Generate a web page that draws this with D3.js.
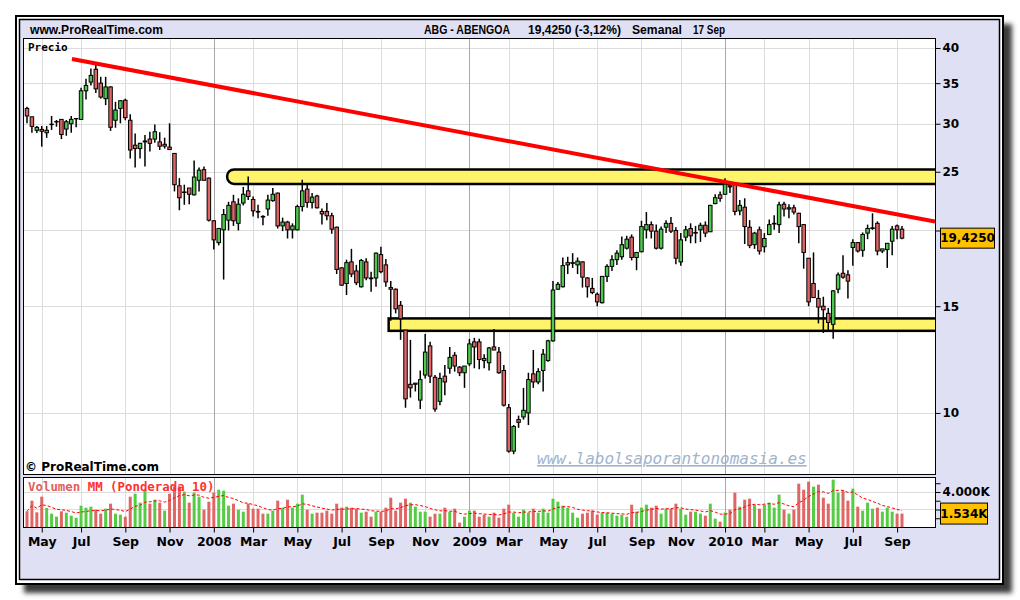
<!DOCTYPE html>
<html>
<head>
<meta charset="utf-8">
<script src="https://cdn.jsdelivr.net/npm/d3@7"></script>
<style>
  body { margin: 0; background: #fff; }
</style>
</head>
<body>
<div id="chart-wrapper"></div>
<script>

// weekly bars, ABG - ABENGOA
const firstWeek = "2007-04-16"
const lastWeek = "2010-09-13"

const opens = [
  31.8, 30.8, 29.26, 29.36, 28.99, 29.9, 30.2, 30.5, 29.4, 30.0,
  30.6, 30.5, 34.0, 35.15, 36.9, 35.0, 33.0, 34.5, 30.4, 31.8,
  32.8, 30.4, 27.65, 27.3, 28.0, 28.3, 28.3, 28.0, 27.75, 27.45,
  26.8, 23.7, 23.1, 23.5, 22.9, 24.2, 25.2, 24.4, 20.75, 19.1,
  20.05, 20.8, 22.3, 20.55, 22.2, 23.25, 22.5, 21.5, 21.1, 21.7,
  22.4, 23.05, 20.35, 20.65, 20.05, 20.05, 21.9, 23.4, 22.25, 22.8,
  21.5, 21.5, 21.15, 20.25, 17.35, 16.35, 17.75, 17.15, 16.15, 17.75,
  16.7, 16.7, 18.25, 17.55, 16.1, 16.0, 15.05, 13.7, 11.15, 11.15,
  10.5, 11.55, 12.9, 11.45, 10.45, 11.5, 11.85, 12.45, 11.9, 11.65,
  12.05, 13.1, 13.1, 12.3, 12.1, 12.85, 12.6, 11.75, 10.2, 8.65,
  9.75, 9.85, 10.0, 11.6, 11.25, 11.75, 12.2, 13.15, 16.0, 16.15,
  17.7, 17.65, 17.55, 17.75, 16.7, 16.05, 15.7, 15.2, 16.8, 17.45,
  17.9, 18.1, 18.7, 19.5, 18.05, 18.45, 20.05, 20.45, 19.95, 18.7,
  20.25, 20.55, 20.0, 17.75, 19.5, 20.15, 19.8, 20.05, 20.4, 19.9,
  22.15, 22.9, 22.95, 23.7, 23.9, 21.55, 21.85, 20.25, 18.95, 20.05,
  18.8, 19.7, 20.5, 20.45, 22.1, 21.7, 21.8, 21.35, 20.45, 18.0,
  16.35, 15.45, 15.0, 14.6, 14.0, 16.0, 17.0, 16.9, 18.75, 19.1,
  18.55, 19.8, 20.15, 20.55, 18.5, 18.6, 19.2, 20.35, 20.1
]
const highs = [
  32.0, 30.8, 29.74, 29.74, 29.74, 30.9, 30.43, 30.5, 30.43, 30.9,
  30.65, 34.4, 35.6, 37.0, 37.5, 35.85, 35.85, 34.6, 32.6, 32.8,
  33.0, 31.1, 28.9, 27.9, 28.75, 29.1, 29.9, 29.05, 28.45, 30.05,
  26.85, 24.4, 23.8, 23.5, 26.1, 25.4, 25.5, 24.45, 20.8, 20.2,
  21.7, 22.3, 22.9, 22.6, 23.6, 24.55, 22.75, 22.05, 21.2, 22.9,
  23.5, 23.1, 21.0, 20.75, 20.55, 22.05, 24.25, 23.85, 23.05, 22.9,
  21.75, 22.2, 21.4, 20.3, 17.4, 17.9, 18.65, 17.55, 17.95, 18.0,
  17.1, 18.4, 18.8, 17.95, 16.5, 16.05, 15.3, 13.7, 13.2, 11.2,
  11.75, 13.5, 13.1, 11.55, 11.65, 12.0, 12.85, 12.6, 11.95, 11.95,
  13.25, 13.3, 13.25, 12.5, 12.85, 13.75, 12.85, 12.0, 10.35, 9.55,
  9.9, 11.0, 11.65, 12.7, 11.85, 12.75, 13.2, 16.5, 16.45, 18.05,
  18.1, 18.35, 18.05, 17.8, 16.75, 16.7, 15.8, 16.8, 17.6, 18.2,
  18.55, 19.55, 19.6, 19.7, 18.4, 20.75, 21.45, 20.7, 20.45, 20.3,
  20.8, 21.05, 20.25, 19.8, 20.35, 20.55, 20.35, 20.6, 20.7, 22.05,
  22.95, 23.2, 24.4, 23.8, 24.05, 22.45, 22.6, 20.8, 19.9, 20.3,
  19.8, 20.85, 21.2, 22.3, 22.3, 22.1, 22.05, 21.4, 20.5, 18.0,
  18.4, 15.95, 15.55, 14.9, 15.95, 17.05, 18.2, 17.2, 19.35, 19.15,
  19.85, 20.45, 21.35, 20.7, 18.65, 19.05, 20.35, 20.45, 20.35
]
const lows = [
  30.05, 29.0, 28.96, 27.5, 28.43, 29.3, 29.66, 28.3, 28.66, 29.0,
  29.6, 30.5, 32.9, 34.7, 33.7, 33.0, 32.2, 29.2, 29.55, 30.05,
  30.4, 26.3, 25.4, 26.3, 25.5, 27.0, 27.9, 27.15, 27.3, 27.2,
  23.2, 21.6, 22.05, 22.1, 22.85, 23.2, 24.2, 20.7, 18.6, 18.9,
  16.6, 20.0, 20.35, 20.0, 22.0, 22.45, 21.1, 20.95, 20.4, 21.15,
  22.3, 20.15, 19.95, 19.4, 19.4, 20.0, 21.5, 21.8, 21.75, 21.75,
  20.45, 20.8, 19.75, 16.95, 16.2, 15.65, 16.75, 16.25, 16.1, 16.55,
  15.85, 16.15, 17.0, 16.15, 14.2, 14.6, 13.2, 10.2, 10.6, 10.85,
  10.15, 11.4, 11.2, 10.05, 10.3, 10.7, 11.6, 11.7, 11.5, 11.0,
  11.95, 11.85, 11.8, 11.85, 11.75, 12.7, 11.6, 10.25, 8.6, 8.55,
  9.45, 9.75, 9.55, 11.0, 11.15, 10.85, 12.15, 13.1, 15.95, 16.1,
  16.95, 17.35, 16.95, 16.1, 15.5, 15.7, 15.0, 15.15, 16.45, 17.15,
  17.55, 17.9, 18.6, 17.85, 17.2, 18.4, 19.4, 19.4, 18.6, 18.6,
  19.8, 19.8, 17.6, 17.5, 19.2, 19.05, 19.05, 19.15, 19.5, 19.9,
  22.1, 22.3, 22.9, 23.05, 21.2, 21.2, 19.0, 18.7, 18.65, 18.25,
  18.4, 19.65, 20.05, 19.8, 21.1, 20.95, 21.25, 19.05, 17.3, 15.0,
  15.5, 14.05, 13.55, 13.7, 13.25, 15.75, 16.65, 15.45, 17.5, 18.4,
  18.1, 19.35, 20.05, 18.2, 18.35, 17.35, 18.2, 19.35, 19.35
]
const closes = [
  30.9, 29.7, 29.59, 29.15, 29.26, 29.95, 30.25, 28.8, 30.23, 30.5,
  30.6, 34.0, 34.7, 36.05, 34.25, 33.2, 34.5, 29.6, 31.6, 32.74,
  30.7, 27.15, 27.3, 27.85, 28.1, 27.85, 29.1, 27.55, 27.55, 27.2,
  23.8, 22.65, 23.15, 22.95, 24.5, 25.15, 24.2, 20.8, 19.3, 20.15,
  21.25, 22.0, 20.75, 22.1, 22.95, 22.75, 21.55, 21.45, 21.05, 22.45,
  22.95, 20.35, 20.65, 20.05, 20.35, 21.9, 23.25, 22.25, 22.7, 21.8,
  21.3, 21.15, 20.1, 17.25, 16.25, 17.7, 16.95, 16.4, 17.85, 16.7,
  16.65, 18.35, 17.1, 16.45, 16.0, 14.85, 14.3, 10.55, 11.0, 11.2,
  11.35, 12.6, 11.5, 10.15, 11.4, 11.25, 12.35, 11.95, 11.65, 11.95,
  13.0, 12.85, 12.25, 12.2, 12.8, 12.7, 11.65, 10.3, 8.65, 9.5,
  9.65, 10.1, 11.35, 11.25, 11.7, 12.5, 13.15, 15.95, 16.3, 17.5,
  17.55, 17.7, 17.8, 16.75, 16.15, 15.8, 15.25, 16.8, 17.45, 17.9,
  18.35, 18.95, 19.35, 18.05, 18.4, 20.3, 20.45, 19.95, 18.7, 20.1,
  20.55, 19.95, 18.0, 19.3, 20.05, 19.6, 19.85, 20.4, 19.8, 22.0,
  22.65, 22.6, 23.85, 23.6, 21.5, 22.0, 20.3, 18.9, 19.8, 18.5,
  19.4, 20.45, 20.55, 22.05, 21.7, 21.8, 21.45, 20.3, 18.4, 15.25,
  15.5, 14.95, 14.8, 14.1, 15.9, 16.9, 16.75, 16.5, 19.1, 18.5,
  19.7, 20.15, 20.2, 18.5, 18.65, 19.05, 20.1, 20.05, 19.425
]
// volume in thousands of shares
const volumes = [
  1790, 3010, 1676, 3467, 2172, 1524, 1181, 1790, 1638, 1295,
  1067, 2438, 2210, 2324, 1981, 1524, 2096, 2667, 1524, 1410,
  1181, 3467, 3810, 2781, 4267, 2667, 3124, 2781, 1867, 3810,
  4648, 4648, 4039, 2781, 3924, 3467, 1981, 2896, 3924, 4267,
  4153, 2438, 2667, 1981, 1753, 2667, 2096, 2096, 1524, 1524,
  1867, 3010, 2210, 3124, 2210, 2667, 3696, 1981, 1524, 1638,
  1638, 1867, 1524, 2667, 2210, 2324, 2210, 2096, 1638, 1753,
  1181, 1753, 1753, 2210, 3353, 1867, 2781, 3239, 2781, 2324,
  1753, 1753, 1181, 1524, 1524, 2210, 1753, 2096, 495, 1181,
  1867, 1867, 1181, 1410, 1181, 1638, 1067, 2096, 2553, 1638,
  1181, 1981, 1638, 2096, 1638, 2096, 1638, 3239, 2896, 2438,
  2210, 1638, 1067, 1524, 1638, 1867, 1410, 1638, 1638, 1524,
  1295, 1410, 1181, 2553, 1753, 2210, 2553, 2210, 2438, 1524,
  2096, 2096, 2667, 2096, 1410, 1753, 1753, 1524, 1295, 2667,
  953, 610, 1638, 1981, 3924, 2324, 3124, 3239, 2553, 2096,
  2553, 2781, 2210, 3696, 1981, 1524, 1981, 4953, 4267, 5182,
  4610, 4839, 3353, 2667, 5410, 3924, 4153, 3010, 4382, 2324,
  1867, 2781, 2096, 2210, 1753, 2210, 1753, 1524, 1534
]

const priceTicks = [10, 15, 20, 25, 30, 35, 40]
const volumeTicks = [1000, 2000, 3000, 4000, 5000]
const monthNames = ["Ene", "Feb", "Mar", "Abr", "May", "Jun", "Jul", "Ago", "Sep", "Oct", "Nov", "Dic"]

// yellow support / resistance zones
const zoneStarts = ["2008-01-26", "2008-09-12"]
const zoneLows = [23.86, 13.66]
const zoneHighs = [25.22, 14.32]

// red trend line
const trendDates = ["2007-06-19", "2010-10-30"]
const trendPrices = [38.37, 20.7]

function drawChart() {

  const parseDate = d3.utcParse("%Y-%m-%d")
  const dates = d3.utcMonday.range(parseDate(firstWeek), d3.utcDay.offset(parseDate(lastWeek), 1))

  const bars = dates.map((d, i) => ({
    date: d, open: opens[i], high: highs[i], low: lows[i], close: closes[i], volume: volumes[i],
    volUp: i === 0 ? closes[i] >= opens[i] : closes[i] >= closes[i - 1]
  }))

  // weighted moving average, 10 periods
  const wma = bars.map((d, i) => {
    let num = 0, den = 0
    for (let k = 0; k < 10 && i - k >= 0; k++) {
      num += (10 - k) * volumes[i - k]
      den += (10 - k)
    }
    return num / den
  })

  // chart dimensions
  const width = 1020
  const height = 600
  const plot = { left: 23, right: 935, top: 38, bottom: 474 }
  const vol = { top: 477, bottom: 527 }

  const green = "#4DC94D"
  const red = "#E06666"
  const lavender = "#E0E0F4"
  const font = "'DejaVu Sans', Verdana, sans-serif"

  // scales
  const x = d3.scaleUtc()
    .domain([dates[0], dates[dates.length - 1]])
    .range([27, 902])
  const y = d3.scaleLog()
    .domain([7.93, 41.55])
    .range([plot.bottom, plot.top])
  const v = d3.scaleLinear()
    .domain([0, 5714])
    .range([vol.bottom, vol.top])

  // ticks sit on the first weekly bar of every other month
  const monthTicks = dates.filter((d, i) => i > 0
    && d.getUTCMonth() !== dates[i - 1].getUTCMonth()
    && d.getUTCMonth() % 2 === 0)

  const last = bars[bars.length - 1]
  const comma = s => s.replace(".", ",").replace("\u2212", "-")

  const svg = d3.select("#chart-wrapper")
    .append("svg")
      .attr("width", width)
      .attr("height", height)

  const defs = svg.append("defs")
  defs.append("filter").attr("id", "shadow-blur")
    .attr("x", "-5%").attr("y", "-5%").attr("width", "110%").attr("height", "110%")
    .append("feGaussianBlur").attr("stdDeviation", 2.5)
  defs.append("clipPath").attr("id", "clip-price")
    .append("rect")
      .attr("x", plot.left).attr("y", plot.top)
      .attr("width", plot.right - plot.left).attr("height", plot.bottom - plot.top)

  // frame with drop shadow
  svg.append("rect")
    .attr("x", 24).attr("y", 24).attr("width", 988).attr("height", 569)
    .attr("fill", "#3a3a3a")
    .attr("filter", "url(#shadow-blur)")
  svg.append("rect")
    .attr("x", 16).attr("y", 16).attr("width", 987).attr("height", 568)
    .attr("fill", "#fff").attr("stroke", "#000").attr("stroke-width", 2)
  svg.append("rect")
    .attr("x", 19.5).attr("y", 19.5).attr("width", 980).attr("height", 560)
    .attr("fill", lavender).attr("stroke", "#000").attr("stroke-width", 1.5)

  // header
  const header = svg.append("g")
    .attr("font-family", "'Liberation Sans', Arial, sans-serif")
    .attr("font-weight", "bold")
    .attr("font-size", 12)
  header.append("text").attr("x", 30).attr("y", 34)
    .attr("textLength", 133).attr("lengthAdjust", "spacingAndGlyphs")
    .text("www.ProRealTime.com")
  const change = (last.close / bars[bars.length - 2].close - 1) * 100
  header.append("text").attr("x", 424).attr("y", 34)
    .attr("textLength", 86).attr("lengthAdjust", "spacingAndGlyphs")
    .text("ABG - ABENGOA")
  header.append("text").attr("x", 528).attr("y", 34)
    .attr("textLength", 93).attr("lengthAdjust", "spacingAndGlyphs")
    .text(comma(d3.format(".4f")(last.close)) + " (" + comma(d3.format(".2f")(change)) + "%)")
  header.append("text").attr("x", 632).attr("y", 34)
    .attr("textLength", 50).attr("lengthAdjust", "spacingAndGlyphs")
    .text("Semanal")
  header.append("text").attr("x", 693).attr("y", 34)
    .attr("textLength", 32).attr("lengthAdjust", "spacingAndGlyphs")
    .text("17 Sep")

  // panels
  svg.append("rect")
    .attr("x", plot.left).attr("y", plot.top)
    .attr("width", plot.right - plot.left).attr("height", plot.bottom - plot.top)
    .attr("fill", "#fff")
  svg.append("rect")
    .attr("x", plot.left).attr("y", vol.top)
    .attr("width", plot.right - plot.left).attr("height", vol.bottom - vol.top)
    .attr("fill", "#fff")

  // grid
  const grid = svg.append("g").attr("shape-rendering", "crispEdges")
  grid.selectAll(".hgrid")
    .data(priceTicks)
    .join("line")
      .attr("x1", plot.left).attr("x2", plot.right)
      .attr("y1", d => Math.round(y(d)) + 0.5).attr("y2", d => Math.round(y(d)) + 0.5)
      .attr("stroke", "#DCDCDC")
  grid.selectAll(".vhgrid")
    .data([2000, 4000])
    .join("line")
      .attr("x1", plot.left).attr("x2", plot.right)
      .attr("y1", d => Math.round(v(d)) + 0.5).attr("y2", d => Math.round(v(d)) + 0.5)
      .attr("stroke", "#DCDCDC")
  const vGrid = (y1, y2) => grid.append("g").selectAll("line")
    .data(monthTicks)
    .join("line")
      .attr("x1", d => Math.round(x(d)) + 0.5).attr("x2", d => Math.round(x(d)) + 0.5)
      .attr("y1", y1).attr("y2", y2)
      .attr("stroke", d => d.getUTCMonth() === 0 ? "#A8A8A8" : "#DCDCDC")
  vGrid(plot.top, plot.bottom)
  vGrid(vol.top, vol.bottom)

  // price panel contents
  const priceGroup = svg.append("g").attr("clip-path", "url(#clip-price)")

  // support / resistance zones
  priceGroup.selectAll(".zone")
    .data(zoneStarts)
    .join("rect")
      .attr("x", d => x(parseDate(d)))
      .attr("width", d => plot.right + 6 - x(parseDate(d)))
      .attr("y", (d, i) => y(zoneHighs[i]))
      .attr("height", (d, i) => y(zoneLows[i]) - y(zoneHighs[i]))
      .attr("rx", (d, i) => i === 0 ? 7 : 0)
      .attr("fill", "#FFF36B")
      .attr("stroke", "#000")
      .attr("stroke-width", 2.5)

  // watermark
  priceGroup.append("text")
    .attr("x", 537).attr("y", 464)
    .attr("font-family", "'DejaVu Sans Mono', monospace")
    .attr("font-style", "italic")
    .attr("font-size", 16)
    .attr("fill", "#A0B4CC")
    .attr("text-decoration", "underline")
    .text("www.labolsaporantonomasia.es")

  // candles
  const candles = priceGroup.selectAll(".candle")
    .data(bars)
    .join("g")
  candles.append("line")
    .attr("x1", d => x(d.date)).attr("x2", d => x(d.date))
    .attr("y1", d => y(d.high)).attr("y2", d => y(d.low))
    .attr("stroke", "#000").attr("stroke-width", 1.5)
  candles.append("rect")
    .attr("x", d => x(d.date) - 1.75)
    .attr("width", 3.5)
    .attr("y", d => y(Math.max(d.open, d.close)))
    .attr("height", d => Math.max(0.3, Math.abs(y(d.open) - y(d.close))))
    .attr("fill", d => d.close >= d.open ? green : red)
    .attr("stroke", "#000").attr("stroke-width", 1)

  // trend line
  const trendLine = d3.line()
    .x(d => x(parseDate(d)))
    .y((d, i) => y(trendPrices[i]))
  priceGroup.append("path")
    .attr("d", trendLine(trendDates))
    .attr("stroke", "#FF0000")
    .attr("stroke-width", 4)
    .attr("fill", "none")

  // volume bars
  svg.append("g").selectAll("rect")
    .data(bars)
    .join("rect")
      .attr("x", d => x(d.date) - 1.5)
      .attr("width", 3)
      .attr("y", d => v(d.volume))
      .attr("height", d => vol.bottom - v(d.volume))
      .attr("fill", d => d.volUp ? "#55CC44" : red)
  const maLine = d3.line()
    .x((d, i) => x(dates[i]))
    .y(d => v(d))
  svg.append("path")
    .attr("d", maLine(wma))
    .attr("stroke", "#FF0000")
    .attr("stroke-width", 1)
    .attr("stroke-dasharray", "3,2")
    .attr("fill", "none")

  // panel borders
  svg.append("rect")
    .attr("x", plot.left + 0.5).attr("y", plot.top + 0.5)
    .attr("width", plot.right - plot.left).attr("height", plot.bottom - plot.top)
    .attr("fill", "none").attr("stroke", "#000")
  svg.append("rect")
    .attr("x", plot.left + 0.5).attr("y", vol.top + 0.5)
    .attr("width", plot.right - plot.left).attr("height", vol.bottom - vol.top)
    .attr("fill", "none").attr("stroke", "#000")

  // axes
  const styleAxis = g => g
    .attr("font-family", font)
    .attr("font-weight", "bold")
    .attr("font-size", 12)
    .call(g => g.select(".domain").remove())

  // the last-value box sits over the nearest price label, so that label is left out
  const ly = y(last.close)
  svg.append("g")
    .attr("transform", `translate(${plot.right + 0.5},0)`)
    .call(d3.axisRight(y).tickValues(priceTicks).tickSize(5).tickPadding(2)
      .tickFormat(d => Math.abs(y(d) - ly) < 14 ? "" : d3.format("d")(d)))
    .call(styleAxis)

  svg.append("g")
    .attr("transform", `translate(${plot.right + 0.5},0)`)
    .call(d3.axisRight(v).tickValues(volumeTicks).tickSize(5).tickPadding(2)
      .tickFormat(d => d === 4000 ? d3.format(",")(d).replace(",", ".") + "K" : ""))
    .call(styleAxis)

  svg.append("g")
    .attr("transform", `translate(0,${vol.bottom + 0.5})`)
    .call(d3.axisBottom(x).tickValues(monthTicks).tickSize(5).tickPadding(5)
      .tickFormat(d => d.getUTCMonth() === 0 ? d.getUTCFullYear() : monthNames[d.getUTCMonth()]))
    .call(styleAxis)
    .call(g => g.selectAll("text").attr("font-size", 12.5))

  // last value boxes
  svg.append("rect")
    .attr("x", 940.5).attr("y", ly - 10).attr("width", 54).attr("height", 20)
    .attr("fill", "#FFC000").attr("stroke", "#000")
  svg.append("text")
    .attr("x", 967.5).attr("y", ly).attr("dy", "0.36em")
    .attr("text-anchor", "middle")
    .attr("font-family", font).attr("font-weight", "bold").attr("font-size", 12)
    .text(comma(d3.format(".4f")(last.close)))

  const vy = v(last.volume)
  svg.append("rect")
    .attr("x", 940.5).attr("y", vy - 10.5).attr("width", 47).attr("height", 21)
    .attr("fill", "#FFC000").attr("stroke", "#000")
  svg.append("text")
    .attr("x", 964).attr("y", vy).attr("dy", "0.36em")
    .attr("text-anchor", "middle")
    .attr("font-family", font).attr("font-weight", "bold").attr("font-size", 12)
    .text(d3.format(",")(last.volume).replace(",", ".") + "K")

  // panel titles
  svg.append("text")
    .attr("x", 28).attr("y", 51)
    .attr("font-family", "'DejaVu Sans Mono', monospace")
    .attr("font-weight", "bold").attr("font-size", 11)
    .text("Precio")
  svg.append("text")
    .attr("x", 25).attr("y", 471)
    .attr("font-family", font)
    .attr("font-weight", "bold").attr("font-size", 12)
    .text("© ProRealTime.com")
  const volTitle = svg.append("text")
    .attr("x", 28).attr("y", 491)
    .attr("font-family", "'DejaVu Sans Mono', monospace")
    .attr("font-weight", "bold").attr("font-size", 12.4)
  volTitle.append("tspan").attr("fill", "#E06060").text("Volumen ")
  volTitle.append("tspan").attr("fill", "#FF3030").text("MM (Ponderada 10)")
}

window.onload = function () {
  drawChart()
}
</script>
</body>
</html>
